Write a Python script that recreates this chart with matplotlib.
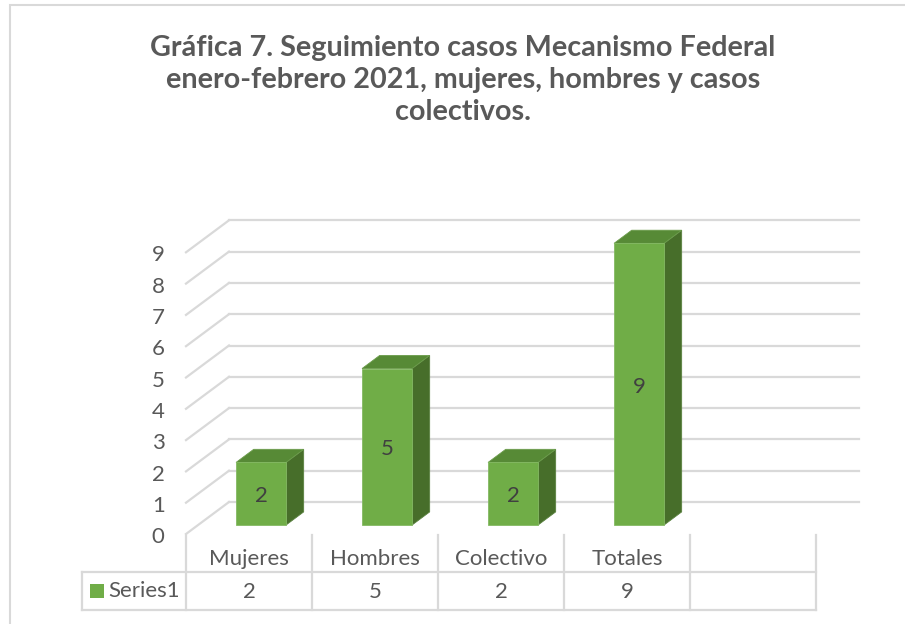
import matplotlib.pyplot as plt
from matplotlib.patches import Polygon, Rectangle

# datos de la grafica
categorias = ['Mujeres', 'Hombres', 'Colectivo', 'Totales']
valores = [2, 5, 2, 9]
serie = 'Series1'
ticks_y = list(range(10))
titulo = ('Gráfica 7. Seguimiento casos Mecanismo Federal\n'
          'enero-febrero 2021, mujeres, hombres y casos\n'
          'colectivos.')

plt.rcParams['font.family'] = ['Lato', 'DejaVu Sans']

W, H = 905, 624
fig = plt.figure(figsize=(W / 100, H / 100), dpi=100)

# ejes: x en columnas de categoria, y en unidades de valor
col_px, unit_px = 126.0, 31.3
x0_px, y0_px = 186, 534
ax_w, ax_h = 700, 330
ax = fig.add_axes([x0_px / W, (H - y0_px) / H, ax_w / W, ax_h / H])
ax.set_xlim(0, ax_w / col_px)
ax.set_ylim(0, ax_h / unit_px)
ax.axis('off')

ncol = len(categorias) + 1
ddx = 43 / col_px      # profundidad en x
ddy = 32 / unit_px     # profundidad en y
d0, d1 = 0.28, 0.69    # posicion de las barras en profundidad
bw = 50 / col_px
grid_c = '#d9d9d9'
txt_c = '#595959'
fs = 16

# rejilla (pared trasera y lateral)
for v in ticks_y:
    ax.plot([ddx, ncol + ddx], [v + ddy, v + ddy], color=grid_c, lw=1.6, zorder=1, clip_on=False)
    ax.plot([0, ddx], [v, v + ddy], color=grid_c, lw=1.6, zorder=1, clip_on=False)
    ax.text(-0.17, v - 0.1, str(v), ha='right', va='center', fontsize=fs, color=txt_c)

# barras 3D
front_c, top_c, side_c = '#70ad47', '#578a36', '#476e2a'
for i, v in enumerate(valores):
    xl = i + 0.5 - bw / 2
    xr = xl + bw
    fx0, fy0 = d0 * ddx, d0 * ddy
    fx1, fy1 = d1 * ddx, d1 * ddy
    front = Polygon([(xl + fx0, fy0), (xr + fx0, fy0), (xr + fx0, v + fy0), (xl + fx0, v + fy0)],
                    closed=True, fc=front_c, ec='#84b963', lw=0.6, zorder=3)
    top = Polygon([(xl + fx0, v + fy0), (xr + fx0, v + fy0), (xr + fx1, v + fy1), (xl + fx1, v + fy1)],
                  closed=True, fc=top_c, ec='#6b9c4b', lw=0.6, zorder=3)
    side = Polygon([(xr + fx0, fy0), (xr + fx1, fy1), (xr + fx1, v + fy1), (xr + fx0, v + fy0)],
                   closed=True, fc=side_c, ec='#5a8240', lw=0.6, zorder=3)
    for p in (side, top, front):
        ax.add_patch(p)
    ax.text(i + 0.5 + fx0, v / 2 + fy0 - 0.08, str(v), ha='center', va='center',
            fontsize=fs, color='#404040', zorder=4)

# tabla de datos
y_row, y_bot, x_leg = -1.214, -2.43, -0.825
for k in range(ncol + 1):
    ax.plot([k, k], [-0.03, y_bot], color=grid_c, lw=1.6, clip_on=False)
ax.plot([x_leg, ncol], [y_row, y_row], color=grid_c, lw=1.6, clip_on=False)
ax.plot([x_leg, ncol], [y_bot, y_bot], color=grid_c, lw=1.6, clip_on=False)
ax.plot([x_leg, x_leg], [y_row, y_bot], color=grid_c, lw=1.6, clip_on=False)
for i, (c, v) in enumerate(zip(categorias, valores)):
    ax.text(i + 0.5, -0.8, c, ha='center', va='center', fontsize=fs, color=txt_c)
    ax.text(i + 0.5, -1.85, str(v), ha='center', va='center', fontsize=fs, color=txt_c)
ax.add_patch(Rectangle((-0.762, -2.045), 0.111, 0.448, fc=front_c, ec='none', clip_on=False))
ax.text(-0.615, -1.82, serie, ha='left', va='center', fontsize=fs, color=txt_c)

# marco del grafico
fig.add_artist(Rectangle((10 / W, -0.1), 1.2, 1 - 5 / H + 0.1, transform=fig.transFigure,
                         fill=False, ec=grid_c, lw=1.5))

fig.text(463 / W, 1 - 80 / H, titulo, ha='center', va='center', fontsize=20.7,
         fontweight='bold', color=txt_c, linespacing=1.3)

fig.savefig('out.png', dpi=100)
